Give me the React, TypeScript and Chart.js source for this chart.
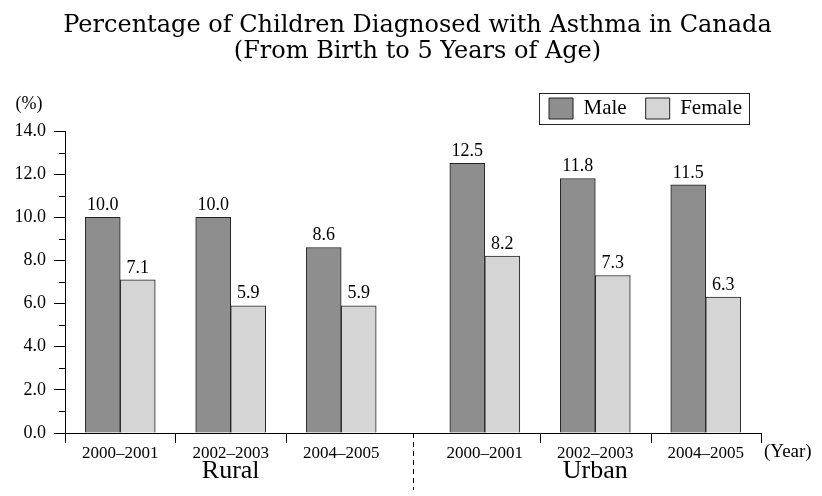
import React, { useEffect, useRef } from 'react';
import { Chart, registerables } from 'chart.js';

Chart.register(...registerables);

const titleLines = ['Percentage of Children Diagnosed with Asthma in Canada', '(From Birth to 5 Years of Age)'];
const periods = ['2000–2001', '2002–2003', '2004–2005'];
const regions = ['Rural', 'Urban'];
const seriesNames = ['Male', 'Female'];
// Rural 2000-2001, 2002-2003, 2004-2005, then Urban 2000-2001, 2002-2003, 2004-2005
const maleValues = [10.0, 10.0, 8.6, 12.5, 11.8, 11.5];
const femaleValues = [7.1, 5.9, 5.9, 8.2, 7.3, 6.3];
const yMin = 0;
const yMax = 14;
const yStep = 2;
const yUnit = '(%)';
const xUnit = '(Year)';

const GAP = 0.3;
const FONT = "'Liberation Serif', 'Times New Roman', serif";
const TITLE_FONT = "'DejaVu Serif', serif";
const N = periods.length;
const X_MAX = regions.length * N + (regions.length - 1) * GAP;

function groupCenter(k: number) {
  const r = Math.floor(k / N);
  const i = k % N;
  return r * (N + GAP) + i + 0.5;
}

const decorPlugin = {
  id: 'decor',
  afterDraw(chart: any) {
    const { ctx, chartArea, scales } = chart;
    const xs = scales.x;
    const ys = scales.y;
    const line = (x1: number, y1: number, x2: number, y2: number) => {
      ctx.beginPath();
      ctx.moveTo(x1, y1);
      ctx.lineTo(x2, y2);
      ctx.stroke();
    };
    ctx.save();
    ctx.strokeStyle = '#000';
    ctx.lineWidth = 1;
    // minor y ticks
    for (let v = yMin + yStep / 2; v < yMax; v += yStep) {
      const py = Math.round(ys.getPixelForValue(v)) + 0.5;
      line(chartArea.left - 6, py, chartArea.left, py);
    }
    // x boundary ticks
    const bottom = Math.round(chartArea.bottom);
    regions.forEach((_, r) => {
      for (let i = 0; i <= N; i++) {
        if (i === N && r < regions.length - 1) continue;
        if (i === 0 && r > 0) continue;
        const px = Math.round(xs.getPixelForValue(r * (N + GAP) + i)) + 0.5;
        line(px, bottom, px, bottom + 10);
      }
    });
    // dashed separator
    ctx.setLineDash([5, 4]);
    for (let r = 1; r < regions.length; r++) {
      const px = Math.round(xs.getPixelForValue(r * (N + GAP) - GAP / 2)) + 0.5;
      line(px, bottom, px, bottom + 57);
    }
    ctx.setLineDash([]);

    ctx.fillStyle = '#000';
    // region labels
    ctx.font = `26px ${FONT}`;
    ctx.textAlign = 'center';
    ctx.textBaseline = 'middle';
    regions.forEach((name, r) => {
      const px = xs.getPixelForValue(r * (N + GAP) + N / 2);
      ctx.fillText(name, px, 471);
    });
    // value labels
    ctx.font = `18px ${FONT}`;
    ctx.textBaseline = 'bottom';
    chart.data.datasets.forEach((ds: any, di: number) => {
      const meta = chart.getDatasetMeta(di);
      meta.data.forEach((el: any, j: number) => {
        const v = ds.data[j].y;
        ctx.fillText(v.toFixed(1), el.x, el.y - 3);
      });
    });
    // unit labels
    ctx.textBaseline = 'middle';
    ctx.textAlign = 'center';
    ctx.fillText(yUnit, 29, 104);
    ctx.font = `19px ${FONT}`;
    ctx.textAlign = 'left';
    ctx.fillText(xUnit, chartArea.right + 3, bottom + 19);
    // legend border
    const lg = chart.legend;
    if (lg && lg.legendHitBoxes && lg.legendHitBoxes.length) {
      const hb = lg.legendHitBoxes;
      const first = hb[0];
      const last = hb[hb.length - 1];
      const cy = first.top + first.height / 2;
      const left = Math.round(first.left - 10) + 0.5;
      const right = Math.round(last.left + last.width + 7) + 0.5;
      ctx.strokeStyle = '#222';
      ctx.strokeRect(left, Math.round(cy - 15.5) + 0.5, right - left, 31);
    }
    ctx.restore();
  },
};

export default function App() {
  const ref = useRef<HTMLCanvasElement | null>(null);
  useEffect(() => {
    if (!ref.current) return;
    const chart = new Chart(ref.current, {
      type: 'bar',
      data: {
        datasets: [
          {
            label: seriesNames[0],
            data: maleValues.map((v, k) => ({ x: groupCenter(k), y: v })),
            backgroundColor: '#8e8e8e',
            borderColor: '#222',
            borderWidth: 1,
            barThickness: 35,
          },
          {
            label: seriesNames[1],
            data: femaleValues.map((v, k) => ({ x: groupCenter(k), y: v })),
            backgroundColor: '#d5d5d5',
            borderColor: '#222',
            borderWidth: 1,
            barThickness: 35,
          },
        ],
      },
      options: {
        responsive: false,
        maintainAspectRatio: false,
        animation: false,
        devicePixelRatio: 1,
        layout: { padding: { left: 13, right: 0, top: 0, bottom: 0 } },
        plugins: {
          title: {
            display: true,
            text: titleLines,
            color: '#000',
            font: { family: TITLE_FONT, size: 24, weight: 'normal', lineHeight: 26 / 24 },
            padding: { top: 13, bottom: 14 },
          },
          legend: {
            position: 'top',
            align: 'end',
            fullSize: false,
            labels: {
              color: '#000',
              font: { family: FONT, size: 21 },
              boxWidth: 24,
              boxHeight: 21,
              padding: 19,
            },
          },
          tooltip: { enabled: false },
        },
        scales: {
          x: {
            type: 'linear',
            min: 0,
            max: X_MAX,
            offset: false,
            afterBuildTicks: (s: any) => {
              s.ticks = maleValues.map((_, k) => ({ value: groupCenter(k) }));
            },
            afterFit: (s: any) => {
              s.height = 63;
            },
            grid: { display: false, drawTicks: false },
            border: { display: true, color: '#000', width: 1 },
            ticks: {
              autoSkip: false,
              maxRotation: 0,
              color: '#000',
              font: { family: FONT, size: 17 },
              padding: 10,
              callback: (_v: any, i: number) => periods[i % N],
            },
          },
          xTop: {
            type: 'linear',
            position: 'top',
            display: true,
            afterFit: (s: any) => {
              s.height = 2;
            },
            grid: { display: false, drawTicks: false },
            border: { display: false },
            ticks: { display: false },
          },
          y: {
            type: 'linear',
            min: yMin,
            max: yMax,
            afterFit: (s: any) => {
              s.width = 52;
            },
            grid: { drawOnChartArea: false, drawTicks: true, tickLength: 11, color: '#000' },
            border: { display: true, color: '#000', width: 1 },
            ticks: {
              stepSize: yStep,
              color: '#000',
              font: { family: FONT, size: 18 },
              padding: 8,
              callback: (v: any) => Number(v).toFixed(1),
            },
          },
          yR: {
            type: 'linear',
            position: 'right',
            display: true,
            afterFit: (s: any) => {
              s.width = 61;
            },
            grid: { display: false, drawTicks: false },
            border: { display: false },
            ticks: { display: false },
          },
        },
      },
      plugins: [decorPlugin],
    } as any);
    return () => chart.destroy();
  }, []);
  return (
    <div style={{ position: 'fixed', left: 0, top: 0, width: 822, height: 496, background: '#fff' }}>
      <canvas ref={ref} width={822} height={496} />
    </div>
  );
}
